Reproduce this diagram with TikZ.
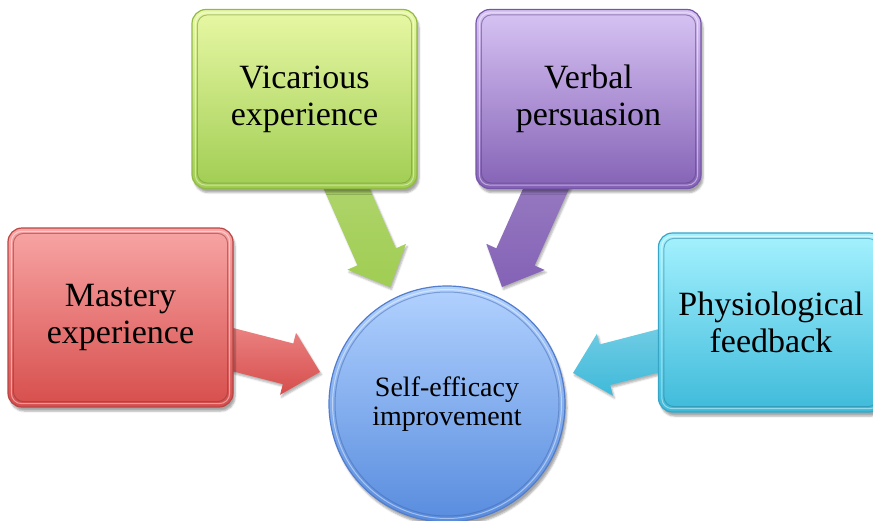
\documentclass[tikz,border=0pt]{standalone}
\usepackage{fontspec}
\setmainfont{Liberation Serif}
\usetikzlibrary{calc,shadows.blur}
\pgfdeclarelayer{bg}
\pgfsetlayers{bg,main}

\definecolor{redT}{RGB}{248,165,165}
\definecolor{redB}{RGB}{214,78,76}
\definecolor{redE}{RGB}{185,70,68}
\definecolor{grnT}{RGB}{232,248,165}
\definecolor{grnB}{RGB}{160,205,82}
\definecolor{grnE}{RGB}{145,185,70}
\definecolor{purT}{RGB}{216,196,244}
\definecolor{purB}{RGB}{132,98,182}
\definecolor{purE}{RGB}{118,86,168}
\definecolor{cyaT}{RGB}{165,242,255}
\definecolor{cyaB}{RGB}{62,186,218}
\definecolor{cyaE}{RGB}{55,165,198}
\definecolor{bluT}{RGB}{178,210,255}
\definecolor{bluB}{RGB}{88,140,222}
\definecolor{bluE}{RGB}{82,124,204}

\newcommand\blockarrow[5]{%
  \coordinate (#1h) at ($(#3)!33pt!(#2)$);
  \shade[top color=#4, bottom color=#5,
         blur shadow={shadow xshift=1.5pt, shadow yshift=-2.5pt, shadow opacity=30}]
    ($(#2)!21pt!90:(#3)$) -- ($(#1h)!21pt!-90:(#2)$) -- ($(#1h)!32pt!-90:(#2)$) -- (#3)
    -- ($(#1h)!32pt!90:(#2)$) -- ($(#1h)!21pt!90:(#2)$) -- ($(#2)!21pt!-90:(#3)$) -- cycle;
}

\tikzset{
  box/.style={rectangle, rounded corners=14pt, minimum width=225pt, minimum height=179pt,
    inner sep=0pt, align=center, font=\fontsize{34}{37}\selectfont, line width=1.2pt,
    blur shadow={shadow xshift=2pt, shadow yshift=-4pt, shadow opacity=35}},
  rim/.style={rounded corners=10pt, line width=1pt},
  circ/.style={circle, minimum size=236pt, inner sep=0pt, align=center,
    font=\fontsize{28}{29.5}\selectfont, line width=1.2pt, draw=bluE,
    top color=bluT, bottom color=bluB,
    blur shadow={shadow xshift=2pt, shadow yshift=-4pt, shadow opacity=35}},
}

\begin{document}
\begin{tikzpicture}[x=1pt, y=-1pt]
\useasboundingbox (0,0) rectangle (873,520);

% boxes
\node[box, draw=redE, top color=redT, bottom color=redB] (mast) at (120.5,317.5) {Mastery\\experience};
\node[box, draw=grnE, top color=grnT, bottom color=grnB] (vic) at (304.5,99) {Vicarious\\experience};
\node[box, draw=purE, top color=purT, bottom color=purB] (verb) at (588.5,99) {Verbal\\persuasion};
\node[box, draw=cyaE, top color=cyaT, bottom color=cyaB] (phys) at (771,322.5) {Physiological\\feedback};

\foreach \n/\c in {mast/redE, vic/grnE, verb/purE, phys/cyaE}{
  \draw[rim, draw=\c!80!black, opacity=.55] ([shift={(6,6)}]\n.north west) rectangle ([shift={(-6,-6)}]\n.south east);
  \draw[rim, draw=white, opacity=.45] ([shift={(4,4)}]\n.north west) rectangle ([shift={(-4,-4)}]\n.south east);
}

% centre circle
\node[circ] (self) at (447,404) {Self-efficacy\\improvement};
\draw[line width=1pt, draw=bluE!85!black, opacity=.5] (self.center) circle (112pt);
\draw[line width=1pt, draw=white, opacity=.45] (self.center) circle (114.5pt);

% block arrows (behind)
\coordinate (ra) at (180,336);  \coordinate (rb) at (320,372);
\coordinate (ga) at (331,153);  \coordinate (gb) at (390,287);
\coordinate (pa) at (562,153);  \coordinate (pb) at (502,287);
\coordinate (ca) at (708,338);  \coordinate (cb) at (573,373);
\begin{pgfonlayer}{bg}
\blockarrow{r}{ra}{rb}{redT!70!redB}{redB}
\blockarrow{g}{ga}{gb}{grnB!80!white}{grnB}
\blockarrow{p}{pa}{pb}{purB!80!white}{purB}
\blockarrow{c}{ca}{cb}{cyaB!70!white}{cyaB}
\end{pgfonlayer}
\end{tikzpicture}
\end{document}
